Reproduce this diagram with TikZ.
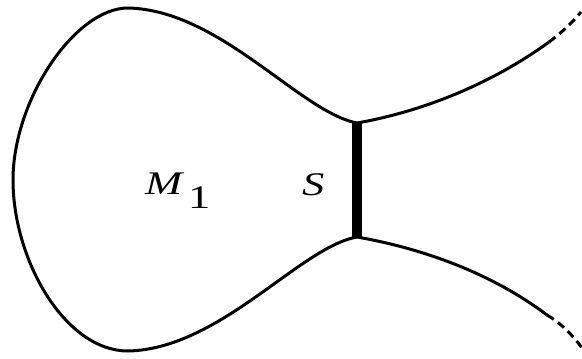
\documentclass[tikz,border=0pt]{standalone}
\usepackage{fontspec}
\setmainfont{Liberation Serif}
\begin{document}
\begin{tikzpicture}[x=0.5pt,y=-0.5pt,line width=1.5pt,
  lbl/.style={inner sep=0pt,anchor=base west,font=\fontsize{16.5}{20}\selectfont,xscale=1.35},
  farend/.style={dash pattern=on 4pt off 2.6pt}]
  \useasboundingbox (0,0) rectangle (582,358);
  \coordinate (stop) at (357,123);
  \coordinate (sbot) at (357,237);

  % the region M_1
  \draw (stop) .. controls (300,112) and (220,10) .. (128,8)
    .. controls (75,8) and (13,100) .. (13,180)
    .. controls (13,260) and (65,351) .. (128,351)
    .. controls (220,349) and (300,247) .. (sbot);

  % branches leaving to the right
  \coordinate (uend) at (549,42);
  \coordinate (lend) at (547,315);
  \draw (stop) .. controls (420,112) and (490,85) .. (uend);
  \draw[farend] (uend) .. controls (560,34) and (571,24) .. (581,12);
  \draw (sbot) .. controls (420,248) and (490,272) .. (lend);
  \draw[farend] (lend) .. controls (559,322) and (572,334) .. (582,348);

  % the cut S
  \draw[line width=4.8pt] (stop) -- (sbot);

  \node[lbl] (mlab) at (143,194) {\textit{M}\hspace{1.5pt}\raisebox{-7pt}{1}};
  \node[lbl] (slab) at (300,195) {\textit{S}};
\end{tikzpicture}
\end{document}
